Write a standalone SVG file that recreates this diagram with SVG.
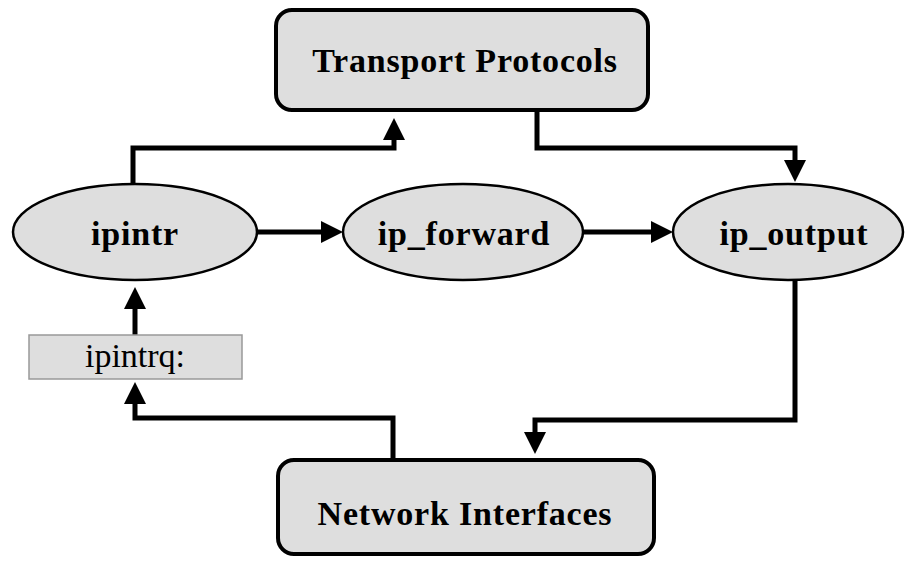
<svg xmlns="http://www.w3.org/2000/svg" width="906" height="562" viewBox="0 0 906 562">
<style>
.box{fill:#dedede;stroke:#000;stroke-width:4}
.ell{fill:#dedede;stroke:#000;stroke-width:2.5}
.q{fill:#dedede;stroke:#999;stroke-width:1.5}
.bt{font-family:"Liberation Serif",serif;font-weight:bold;font-size:34px;letter-spacing:0.8px;text-anchor:middle;fill:#000}
.nt{font-family:"Liberation Serif",serif;font-size:34px;text-anchor:middle;fill:#000}
.c{fill:none;stroke:#000;stroke-width:5;stroke-linejoin:miter}
</style>
<defs>
<marker id="ah" markerUnits="userSpaceOnUse" markerWidth="22" markerHeight="22" refX="0" refY="11" orient="auto" overflow="visible">
<path d="M0,0 L22,11 L0,22 z" fill="#000"/>
</marker>
</defs>
<rect width="906" height="562" fill="#fff"/>
<g id="connectors">
<path class="c" d="M257,232 H321" marker-end="url(#ah)"/>
<path class="c" d="M583,232 H651" marker-end="url(#ah)"/>
<path class="c" d="M133,183 V148 H394 V140" marker-end="url(#ah)"/>
<path class="c" d="M537,112 V148 H795 V160" marker-end="url(#ah)"/>
<path class="c" d="M795,280 V420 H535 V432" marker-end="url(#ah)"/>
<path class="c" d="M393,459 V418 H135 V404" marker-end="url(#ah)"/>
<path class="c" d="M135,335 V309" marker-end="url(#ah)"/>
</g>
<g id="transport">
<rect class="box" x="276" y="10" width="372" height="100" rx="16"/>
<text class="bt" x="465" y="72">Transport Protocols</text>
</g>
<g id="ipintr">
<ellipse class="ell" cx="135" cy="232" rx="122" ry="48"/>
<text class="bt" x="135" y="245">ipintr</text>
</g>
<g id="ip_forward">
<ellipse class="ell" cx="463" cy="232" rx="120" ry="48"/>
<text class="bt" x="464" y="245">ip_forward</text>
</g>
<g id="ip_output">
<ellipse class="ell" cx="788" cy="232" rx="115" ry="48"/>
<text class="bt" x="794" y="245">ip_output</text>
</g>
<g id="ipintrq">
<rect class="q" x="29" y="335" width="213" height="44"/>
<text class="nt" x="135" y="367">ipintrq:</text>
</g>
<g id="network">
<rect class="box" x="278" y="460" width="376" height="94" rx="16"/>
<text class="bt" x="465" y="525">Network Interfaces</text>
</g>
</svg>
